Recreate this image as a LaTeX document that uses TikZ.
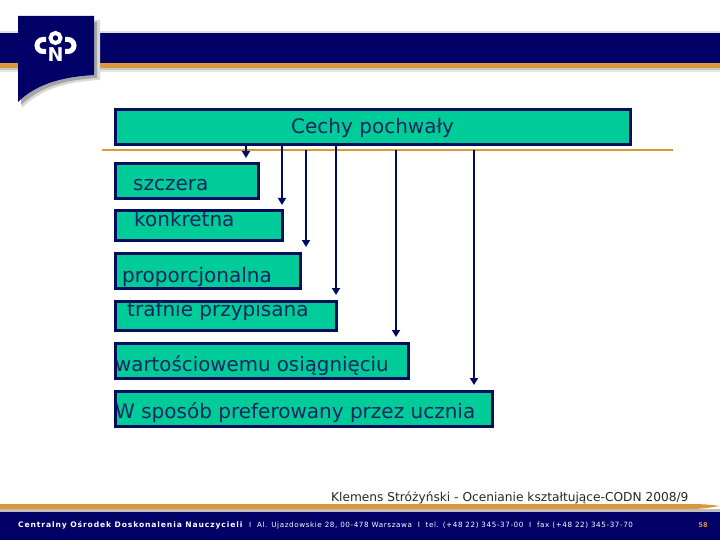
\documentclass[tikz,border=0pt]{standalone}
\usepackage{fontspec}
\setmainfont{DejaVu Sans}
\usetikzlibrary{arrows.meta,calc}
\definecolor{navy}{HTML}{000066}
\definecolor{boxline}{HTML}{000C5C}
\definecolor{teal}{HTML}{00CC99}
\definecolor{gold}{HTML}{D9983C}
\definecolor{ink}{HTML}{14265E}
\tikzset{
  x=1pt,y=-1pt,
  itembox/.style={draw=boxline,line width=3pt,fill=teal,inner sep=0pt,outer sep=0pt,anchor=north west},
  boxlabel/.style={text=ink,font=\fontsize{20}{22}\selectfont,inner sep=0pt,anchor=base west},
  flow/.style={draw=boxline,line width=2.2pt,-{Triangle[length=7pt,width=8pt]}},
  foot/.style={text=white,inner sep=0pt,anchor=base west},
}
\begin{document}
\begin{tikzpicture}
\useasboundingbox (0,0) rectangle (720,540);
\fill[white] (0,0) rectangle (720,540);
% top band
\fill[black!12] (0,31) rectangle (720,34);
\fill[black!10] (0,68) rectangle (720,72);
\fill[black!22] (0,68) rectangle (720,70);
\fill[navy] (0,33) rectangle (720,63);
\fill[gold] (0,63) rectangle (720,68);
% logo tab
\fill[black!15] (22,22) -- (100,20) -- (100,80) .. controls (60,82) and (38,92) .. (22,108) -- cycle;
\fill[black!35] (22,22) -- (97,22) -- (97,78) .. controls (60,80) and (38,89) .. (21,105) -- cycle;
\fill[navy] (18,16) -- (94,16) -- (94,75) .. controls (58,77) and (34,86) .. (18,102) -- cycle;
\draw[white,line width=4pt] (55.5,38) circle (5pt);
\draw[white,line width=5pt] (46,39.5) -- (43,39.5) arc (90:270:6pt) -- (46,51.5);
\draw[white,line width=5pt] (65,39.5) -- (68,39.5) arc (90:-90:6pt) -- (65,51.5);
\node[text=white,font=\bfseries\fontsize{19}{19}\selectfont,inner sep=0pt] (logoN) at (55.5,55) {N};
% footer
\fill[black!25] (0,509) rectangle (720,513);
\fill[gold] (0,504) -- (690,504) .. controls (705,504) and (712,505) .. (720,506) .. controls (712,507) and (705,509) .. (690,509) -- (0,509) -- cycle;
\fill[navy] (0,512) rectangle (720,540);
\node[foot,font=\bfseries\fontsize{7.6}{9}\selectfont\addfontfeatures{LetterSpace=11.5}] (f1) at (18,527) {Centralny Ośrodek Doskonalenia Nauczycieli};
\node[foot,font=\fontsize{7.2}{9}\selectfont\addfontfeatures{LetterSpace=8.2}] (f2) at (249,527) {I\ \ Al. Ujazdowskie 28, 00-478 Warszawa\ \ I\ \ tel. (+48 22) 345-37-00\ \ I\ \ fax (+48 22) 345-37-70};
\node[text=gold,font=\bfseries\fontsize{6.5}{7}\selectfont,inner sep=0pt] (f3) at (703,525) {58};
% orange rule
\draw[gold,line width=2pt] (102,150) -- coordinate[pos=0.5] (rulemid) (673,150);
% boxes
\node[itembox,minimum width=515pt,minimum height=35pt] (top) at (115.5,109.5) {};
\node[itembox,minimum width=143pt,minimum height=35pt] (b1) at (115.5,163.5) {};
\node[itembox,minimum width=167pt,minimum height=30pt] (b2) at (115.5,210.5) {};
\node[itembox,minimum width=185pt,minimum height=35pt] (b3) at (115.5,253.5) {};
\node[itembox,minimum width=221pt,minimum height=29pt] (b4) at (115.5,301.5) {};
\node[itembox,minimum width=293pt,minimum height=35pt] (b5) at (115.5,343.5) {};
\node[itembox,minimum width=377pt,minimum height=35pt] (b6) at (115.5,391.5) {};
% labels
\node[boxlabel] (t0) at (291,134) {Cechy pochwały};
\node[boxlabel] (t1) at (133,191) {szczera};
\node[boxlabel] (t2) at (134,226) {konkretna};
\node[boxlabel] (t3) at (122,282) {proporcjonalna};
\node[boxlabel] (t4) at (127,316) {trafnie przypisana};
\node[boxlabel,font=\fontsize{19.8}{22}\selectfont] (t5) at (115,371) {wartościowemu osiągnięciu};
\node[boxlabel] (t6) at (115,418) {W sposób preferowany przez ucznia};
\node[text=black!85,font=\fontsize{12.2}{15}\selectfont,inner sep=0pt,anchor=base west] (credit) at (331,501) {Klemens Stróżyński - Ocenianie kształtujące-CODN 2008/9};
% arrows
\coordinate (a1) at (246,158);
\coordinate (a2) at (282,205);
\coordinate (s3) at (306,150);
\coordinate (a3) at (306,247);
\coordinate (a4) at (336,295);
\coordinate (s5) at (396,150);
\coordinate (a5) at (396,337);
\coordinate (s6) at (474,150);
\coordinate (a6) at (474,385);
\draw[flow] (top.south -| a1) -- (a1);
\draw[flow] (top.south -| a2) -- (a2);
\draw[flow] (s3) -- (a3);
\draw[flow] (top.south -| a4) -- (a4);
\draw[flow] (s5) -- (a5);
\draw[flow] (s6) -- (a6);
\end{tikzpicture}
\end{document}
